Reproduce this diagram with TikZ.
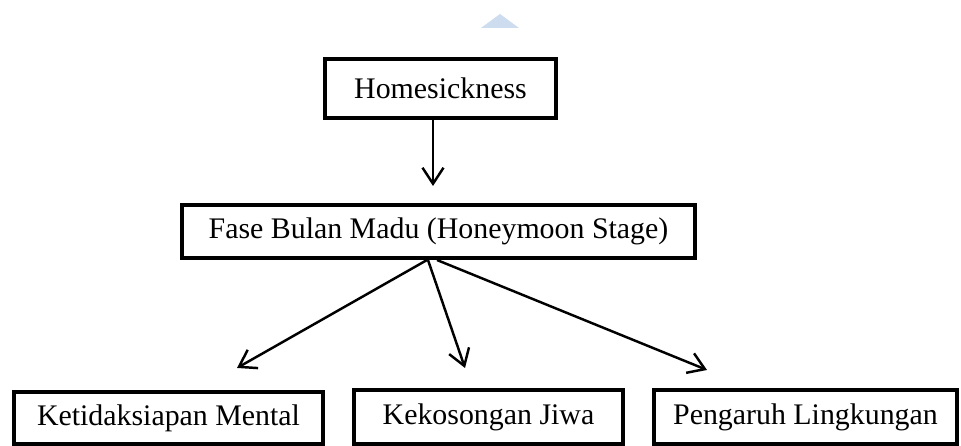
\documentclass[tikz,border=0pt]{standalone}
\usepackage{fontspec}
\setmainfont{Liberation Serif}
\usetikzlibrary{arrows.meta}
\definecolor{markblue}{RGB}{205,220,238}
\begin{document}
\begin{tikzpicture}[
    box/.style={draw, line width=2.3pt, inner sep=0pt, font=\fontsize{17}{20}\selectfont},
    arr/.style={line width=1.4pt, -{Straight Barb[length=0.32cm,width=0.42cm,line width=1.4pt]}}
  ]
        \useasboundingbox (0,0) rectangle (19.22,8.92);

        % faint mark at the top
        \fill[markblue] (10.0,8.64) -- (9.62,8.36) -- (10.38,8.36) -- cycle;

        \node[box, minimum width=4.62cm, minimum height=1.18cm] (home) at (8.81,7.15) {Homesickness};
        \node[box, minimum width=10.26cm, minimum height=1.06cm] (fase) at (8.77,4.29) {Fase Bulan Madu (Honeymoon Stage)};

        \node[box, minimum width=6.18cm, minimum height=1.04cm] (mental) at (3.37,0.56) {Ketidaksiapan Mental};
        \node[box, minimum width=5.38cm, minimum height=1.08cm] (jiwa) at (9.77,0.58) {Kekosongan Jiwa};
        \node[box, minimum width=6.06cm, minimum height=1.08cm] (lingk) at (16.11,0.58) {Pengaruh Lingkungan};

        \draw[arr] ([xshift=-0.15cm]home.south) -- ([xshift=-0.11cm,yshift=0.34cm]fase.north);

        \draw[arr] ([xshift=-0.23cm]fase.south) -- ([xshift=1.37cm,yshift=0.44cm]mental.north);
        \draw[arr] ([xshift=-0.21cm]fase.south) -- ([xshift=-0.47cm,yshift=0.40cm]jiwa.north);
        \draw[arr] ([xshift=-0.03cm]fase.south) -- ([xshift=-1.97cm,yshift=0.36cm]lingk.north);
    \end{tikzpicture}
\end{document}
